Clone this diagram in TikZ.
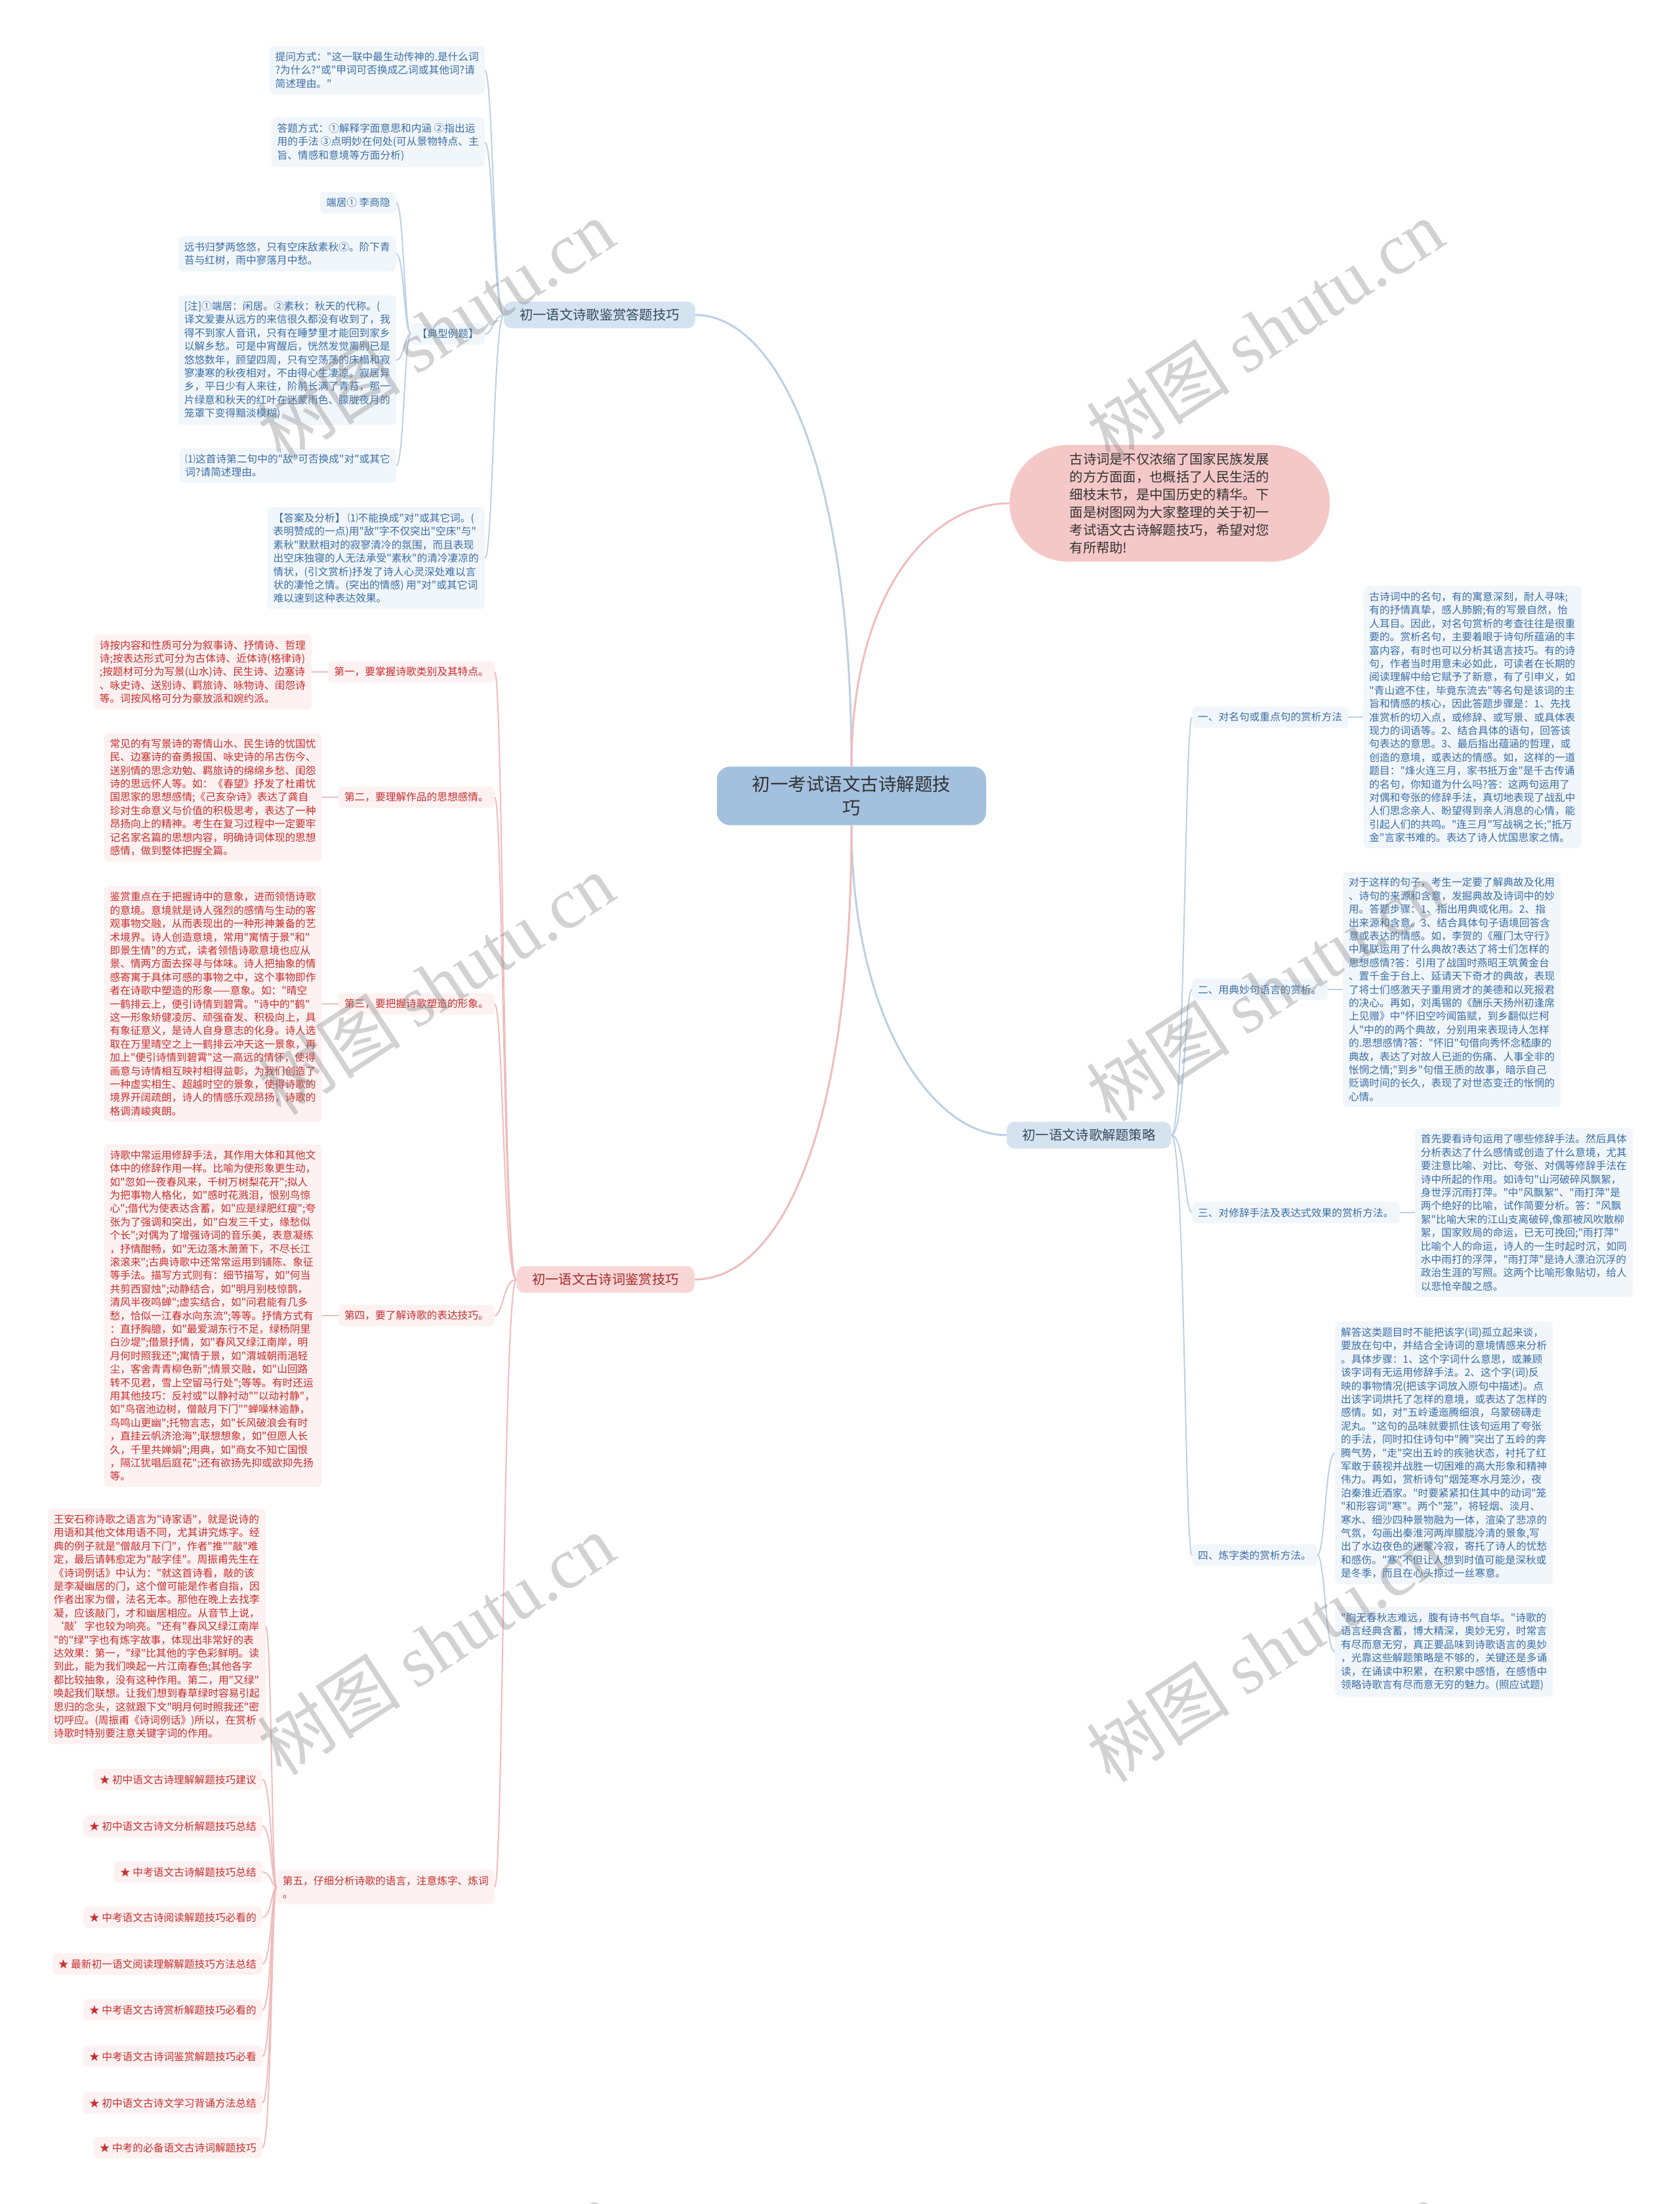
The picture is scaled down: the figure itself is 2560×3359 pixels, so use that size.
\documentclass[tikz,border=0pt]{standalone}
\usepackage{fontspec}
\setmainfont{Noto Sans CJK SC}
\newfontfamily\cjkfont{Noto Sans CJK SC}
\newfontfamily\wmlatin{Liberation Serif}
\usetikzlibrary{positioning}
\definecolor{bfill}{HTML}{F1F6FB}
\definecolor{btxt}{HTML}{3B6EA5}
\definecolor{blin}{HTML}{BCD0E4}
\definecolor{bbrf}{HTML}{D5E3F1}
\definecolor{bbrt}{HTML}{34495E}
\definecolor{rfill}{HTML}{FDF1F1}
\definecolor{rtxt}{HTML}{C62F2F}
\definecolor{rlin}{HTML}{F0BCBC}
\definecolor{rbrf}{HTML}{F9D6D6}
\definecolor{rbrt}{HTML}{A52A2A}
\definecolor{cfill}{HTML}{A3C0DE}
\definecolor{ifill}{HTML}{F5C8C8}
\definecolor{dtxt}{HTML}{333333}
\newcommand{\fsbody}{\cjkfont\fontsize{15.7}{20.4}\selectfont}
\newcommand{\fsbranch}{\cjkfont\fontsize{20.3}{27}\selectfont}
\newcommand{\fscenter}{\cjkfont\fontsize{27.5}{36}\selectfont}
\tikzset{
  bbox/.style={fill=bfill,text=btxt,rounded corners=7pt,inner xsep=9pt,inner ysep=9pt,align=left,font=\fsbody},
  rbox/.style={fill=rfill,text=rtxt,rounded corners=7pt,inner xsep=9pt,inner ysep=9pt,align=left,font=\fsbody},
  bbr/.style={fill=bbrf,text=bbrt,rounded corners=12pt,inner xsep=24pt,inner ysep=11pt,font=\fsbranch},
  rbr/.style={fill=rbrf,text=rbrt,rounded corners=12pt,inner xsep=24pt,inner ysep=11pt,font=\fsbranch},
  bln/.style={draw=blin,line width=2pt},
  rln/.style={draw=rlin,line width=2pt},
  bmain/.style={draw=blin,line width=3pt},
  rmain/.style={draw=rlin,line width=3pt},
  wm/.style={text=gray,opacity=0.35,rotate=33,font=\cjkfont\fontsize{110}{110}\selectfont}
}

\begin{document}
\begin{tikzpicture}[x=1pt,y=-1pt]
\fill[white] (0,0) rectangle (2560,3359);
\useasboundingbox (0,0) rectangle (2560,3359);
\node[fill=cfill,text=dtxt,rounded corners=20pt,inner xsep=54pt,inner ysep=14pt,align=center,font=\fscenter] (cn) at (1298,1213) {初一考试语文古诗解题技\\巧};
\node[fill=ifill,text=dtxt,rounded corners=90pt,inner xsep=92pt,inner ysep=12pt,align=left,font=\fsbranch] (intro) at (1783,767) {古诗词是不仅浓缩了国家民族发展\\的方方面面，也概括了人民生活的\\细枝末节，是中国历史的精华。下\\面是树图网为大家整理的关于初一\\考试语文古诗解题技巧，希望对您\\有所帮助!};
\node[bbr] (b1) at (914,480) {初一语文诗歌鉴赏答题技巧};
\node[bbr] (b2) at (1660,1730) {初一语文诗歌解题策略};
\node[rbr] (b3) at (923,1950) {初一语文古诗词鉴赏技巧};
\draw[bmain] (cn.north) .. controls (1298,700) and (1180,480) .. (b1.east);
\draw[rmain] (cn.north) .. controls (1298,900) and (1420,767) .. (intro.west);
\draw[bmain] (cn.south) .. controls (1298,1550) and (1420,1730) .. (b2.west);
\draw[rmain] (cn.south) .. controls (1298,1750) and (1180,1950) .. (b3.east);

\node[bbox,anchor=north east] (b1a) at (739,70) {提问方式："这一联中最生动传神的.是什么词\\?为什么?"或"甲词可否换成乙词或其他词?请\\简述理由。"};
\node[bbox,anchor=north east] (b1b) at (739,179) {答题方式：①解释字面意思和内涵 ②指出运\\用的手法 ③点明妙在何处(可从景物特点、主\\旨、情感和意境等方面分析)};
\node[bbox,anchor=east] (b1c) at (739,509) {【典型例题】};
\node[bbox,anchor=north east] (b1d) at (739,773) {【答案及分析】 ⑴不能换成"对"或其它词。(\\表明赞成的一点)用"敌"字不仅突出"空床"与"\\素秋"默默相对的寂寥清冷的氛围，而且表现\\出空床独寝的人无法承受"素秋"的清冷凄凉的\\情状，(引文赏析)抒发了诗人心灵深处难以言\\状的凄怆之情。(突出的情感) 用"对"或其它词\\难以速到这种表达效果。};
\node[bbox,anchor=east] (t1) at (604,309) {端居① 李商隐};
\node[bbox,anchor=north east] (t2) at (604,360) {远书归梦两悠悠，只有空床敌素秋②。阶下青\\苔与红树，雨中寥落月中愁。};
\node[bbox,anchor=north east] (t3) at (604,450) {[注]①端居：闲居。②素秋：秋天的代称。(\\译文爱妻从远方的来信很久都没有收到了，我\\得不到家人音讯，只有在睡梦里才能回到家乡\\以解乡愁。可是中宵醒后，恍然发觉离别已是\\悠悠数年，顾望四周，只有空荡荡的床榻和寂\\寥凄寒的秋夜相对，不由得心生凄凉。寂居异\\乡，平日少有人来往，阶前长满了青苔，那一\\片绿意和秋天的红叶在迷蒙雨色、朦胧夜月的\\笼罩下变得黯淡模糊)};
\node[bbox,anchor=north east] (t4) at (604,683) {⑴这首诗第二句中的"敌"可否换成"对"或其它\\词?请简述理由。};
\coordinate (sa) at (752,0);
\coordinate (sb) at (616,0);
\foreach \n in {b1a,b1b,b1c,b1d}
  \draw[bln] (b1.west) .. controls (b1.west -| sa) and (\n.east -| sa) .. (\n.east);
\foreach \n in {t1,t2,t3,t4}
  \draw[bln] (b1c.west) .. controls (b1c.west -| sb) and (\n.east -| sb) .. (\n.east);

\node[bbox,anchor=west] (s1) at (1817,1093) {一、对名句或重点句的赏析方法};
\node[bbox,anchor=west] (s2) at (1817,1508) {二、用典妙句语言的赏析。};
\node[bbox,anchor=west] (s3) at (1817,1848) {三、对修辞手法及表达式效果的赏析方法。};
\node[bbox,anchor=west] (s4) at (1817,2370) {四、炼字类的赏析方法。};
\node[bbox,right=23pt of s1] (s1t) {古诗词中的名句，有的寓意深刻，耐人寻味;\\有的抒情真挚，感人肺腑;有的写景自然，怡\\人耳目。因此，对名句赏析的考查往往是很重\\要的。赏析名句，主要着眼于诗句所蕴涵的丰\\富内容，有时也可以分析其语言技巧。有的诗\\句，作者当时用意未必如此，可读者在长期的\\阅读理解中给它赋予了新意，有了引申义，如\\"青山遮不住，毕竟东流去"等名句是该词的主\\旨和情感的核心，因此答题步骤是：1、先找\\准赏析的切入点，或修辞、或写景、或具体表\\现力的词语等。2、结合具体的语句，回答该\\句表达的意思。3、最后指出蕴涵的哲理，或\\创造的意境，或表达的情感。如，这样的一道\\题目："烽火连三月，家书抵万金"是千古传诵\\的名句，你知道为什么吗?答：这两句运用了\\对偶和夸张的修辞手法，真切地表现了战乱中\\人们思念亲人、盼望得到亲人消息的心情，能\\引起人们的共鸣。"连三月"写战祸之长;"抵万\\金"言家书难的。表达了诗人忧国思家之情。};
\node[bbox,right=23pt of s2] (s2t) {对于这样的句子，考生一定要了解典故及化用\\、诗句的来源和含意，发掘典故及诗词中的妙\\用。答题步骤：1、指出用典或化用。2、指\\出来源和含意。3、结合具体句子语境回答含\\意或表达的情感。如，李贺的《雁门太守行》\\中尾联运用了什么典故?表达了将士们怎样的\\思想感情?答：引用了战国时燕昭王筑黄金台\\、置千金于台上、延请天下奇才的典故，表现\\了将士们感激天子重用贤才的美德和以死报君\\的决心。再如，刘禹锡的《酬乐天扬州初逢席\\上见赠》中"怀旧空吟闻笛赋，到乡翻似烂柯\\人"中的的两个典故，分别用来表现诗人怎样\\的.思想感情?答："怀旧"句借向秀怀念嵇康的\\典故，表达了对故人已逝的伤痛、人事全非的\\怅惘之情;"到乡"句借王质的故事，暗示自己\\贬谪时间的长久，表现了对世态变迁的怅惘的\\心情。};
\node[bbox,right=23pt of s3] (s3t) {首先要看诗句运用了哪些修辞手法。然后具体\\分析表达了什么感情或创造了什么意境，尤其\\要注意比喻、对比、夸张、对偶等修辞手法在\\诗中所起的作用。如诗句"山河破碎风飘絮，\\身世浮沉雨打萍。"中"风飘絮"、"雨打萍"是\\两个绝好的比喻，试作简要分析。答："风飘\\絮"比喻大宋的江山支离破碎,像那被风吹散柳\\絮，国家败局的命运，已无可挽回;"雨打萍"\\比喻个人的命运，诗人的一生时起时沉，如同\\水中雨打的浮萍，"雨打萍"是诗人漂泊沉浮的\\政治生涯的写照。这两个比喻形象贴切，给人\\以悲怆辛酸之感。};
\node[bbox,anchor=north west] (s4t) at (2035,2014) {解答这类题目时不能把该字(词)孤立起来谈，\\要放在句中，并结合全诗词的意境情感来分析\\。具体步骤：1、这个字词什么意思，或兼顾\\该字词有无运用修辞手法。2、这个字(词)反\\映的事物情况(把该字词放入原句中描述)。点\\出该字词烘托了怎样的意境，或表达了怎样的\\感情。如，对"五岭逶迤腾细浪，乌蒙磅礴走\\泥丸。"这句的品味就要抓住该句运用了夸张\\的手法，同时扣住诗句中"腾"突出了五岭的奔\\腾气势，"走"突出五岭的疾驰状态，衬托了红\\军敢于藐视并战胜一切困难的高大形象和精神\\伟力。再如，赏析诗句"烟笼寒水月笼沙，夜\\泊秦淮近酒家。"时要紧紧扣住其中的动词"笼\\"和形容词"寒"。两个"笼"，将轻烟、淡月、\\寒水、细沙四种景物融为一体，渲染了悲凉的\\气氛，勾画出秦淮河两岸朦胧冷清的景象,写\\出了水边夜色的迷蒙冷寂，寄托了诗人的忧愁\\和感伤。"寒"不但让人想到时值可能是深秋或\\是冬季，而且在心头掠过一丝寒意。};
\node[bbox,anchor=north west] (s4u) at (2035,2449) {"胸无春秋志难远，腹有诗书气自华。"诗歌的\\语言经典含蓄，博大精深，奥妙无穷，时常言\\有尽而意无穷，真正要品味到诗歌语言的奥妙\\，光靠这些解题策略是不够的，关键还是多诵\\读，在诵读中积累，在积累中感悟，在感悟中\\领略诗歌言有尽而意无穷的魅力。(照应试题)};
\coordinate (se) at (1806,0);
\coordinate (sf) at (2020,0);
\foreach \n in {s1,s2,s3,s4}
  \draw[bln] (b2.east) .. controls (b2.east -| se) and (\n.west -| se) .. (\n.west);
\foreach \n in {s1,s2,s3}
  \draw[bln] (\n.east) -- (\n t.west);
\foreach \n in {s4t,s4u}
  \draw[bln] (s4.east) .. controls (s4.east -| sf) and (\n.west -| sf) .. (\n.west);

\node[rbox,anchor=east] (f1) at (754,1024) {第一，要掌握诗歌类别及其特点。};
\node[rbox,anchor=east] (f2) at (754,1215) {第二，要理解作品的思想感情。};
\node[rbox,anchor=east] (f3) at (754,1530) {第三，要把握诗歌塑造的形象。};
\node[rbox,anchor=east] (f4) at (754,2005) {第四，要了解诗歌的表达技巧。};
\node[rbox,anchor=east] (f5) at (754,2876) {第五，仔细分析诗歌的语言，注意炼字、炼词\\。};
\node[rbox,left=25pt of f1] (f1t) {诗按内容和性质可分为叙事诗、抒情诗、哲理\\诗;按表达形式可分为古体诗、近体诗(格律诗)\\;按题材可分为写景(山水)诗、民生诗、边塞诗\\、咏史诗、送别诗、羁旅诗、咏物诗、闺怨诗\\等。词按风格可分为豪放派和婉约派。};
\node[rbox,left=25pt of f2] (f2t) {常见的有写景诗的寄情山水、民生诗的忧国忧\\民、边塞诗的奋勇报国、咏史诗的吊古伤今、\\送别情的思念劝勉、羁旅诗的绵绵乡愁、闺怨\\诗的思远怀人等。如：《春望》抒发了杜甫忧\\国思家的思想感情;《己亥杂诗》表达了龚自\\珍对生命意义与价值的积极思考，表达了一种\\昂扬向上的精神。考生在复习过程中一定要牢\\记名家名篇的思想内容，明确诗词体现的思想\\感情，做到整体把握全篇。};
\node[rbox,left=25pt of f3] (f3t) {鉴赏重点在于把握诗中的意象，进而领悟诗歌\\的意境。意境就是诗人强烈的感情与生动的客\\观事物交融，从而表现出的一种形神兼备的艺\\术境界。诗人创造意境，常用"寓情于景"和"\\即景生情"的方式，读者领悟诗歌意境也应从\\景、情两方面去探寻与体味。诗人把抽象的情\\感寄寓于具体可感的事物之中，这个事物即作\\者在诗歌中塑造的形象——意象。如："晴空\\一鹤排云上，便引诗情到碧霄。"诗中的"鹤"\\这一形象矫健凌厉、顽强奋发、积极向上，具\\有象征意义，是诗人自身意志的化身。诗人选\\取在万里晴空之上一鹤排云冲天这一景象，再\\加上"便引诗情到碧霄"这一高远的情怀，使得\\画意与诗情相互映衬相得益彰，为我们创造了\\一种虚实相生、超越时空的景象，使得诗歌的\\境界开阔疏朗，诗人的情感乐观昂扬，诗歌的\\格调清峻爽朗。};
\node[rbox,left=25pt of f4] (f4t) {诗歌中常运用修辞手法，其作用大体和其他文\\体中的修辞作用一样。比喻为使形象更生动，\\如"忽如一夜春风来，千树万树梨花开";拟人\\为把事物人格化，如"感时花溅泪，恨别鸟惊\\心";借代为使表达含蓄，如"应是绿肥红瘦";夸\\张为了强调和突出，如"白发三千丈，缘愁似\\个长";对偶为了增强诗词的音乐美，表意凝练\\，抒情酣畅，如"无边落木萧萧下，不尽长江\\滚滚来";古典诗歌中还常常运用到铺陈、象征\\等手法。描写方式则有：细节描写，如"何当\\共剪西窗烛";动静结合，如"明月别枝惊鹊，\\清风半夜鸣蝉";虚实结合，如"问君能有几多\\愁，恰似一江春水向东流";等等。抒情方式有\\：直抒胸臆，如"最爱湖东行不足，绿杨阴里\\白沙堤";借景抒情，如"春风又绿江南岸，明\\月何时照我还";寓情于景，如"渭城朝雨浥轻\\尘，客舍青青柳色新";情景交融，如"山回路\\转不见君，雪上空留马行处";等等。有时还运\\用其他技巧：反衬或"以静衬动""以动衬静"，\\如"鸟宿池边树，僧敲月下门""蝉噪林逾静，\\鸟鸣山更幽";托物言志，如"长风破浪会有时\\，直挂云帆济沧海";联想想象，如"但愿人长\\久，千里共婵娟";用典，如"商女不知亡国恨\\，隔江犹唱后庭花";还有欲扬先抑或欲抑先扬\\等。};
\node[rbox,anchor=north east] (f5t) at (405,2299) {王安石称诗歌之语言为"诗家语"，就是说诗的\\用语和其他文体用语不同，尤其讲究炼字。经\\典的例子就是"僧敲月下门"，作者"推""敲"难\\定，最后请韩愈定为"敲字佳"。周振甫先生在\\《诗词例话》中认为："就这首诗看，敲的该\\是李凝幽居的门，这个僧可能是作者自指，因\\作者出家为僧，法名无本。那他在晚上去找李\\凝，应该敲门，才和幽居相应。从音节上说，\\‘敲’字也较为响亮。"还有"春风又绿江南岸\\"的"绿"字也有炼字故事，体现出非常好的表\\达效果：第一，"绿"比其他的字色彩鲜明。读\\到此，能为我们唤起一片江南春色;其他各字\\都比较抽象，没有这种作用。第二，用"又绿"\\唤起我们联想。让我们想到春草绿时容易引起\\思归的念头，这就跟下文"明月何时照我还"密\\切呼应。(周振甫《诗词例话》)所以，在赏析\\诗歌时特别要注意关键字词的作用。};
\node[rbox,anchor=east] (k1) at (400,2712) {★ 初中语文古诗理解解题技巧建议};
\node[rbox,anchor=east] (k2) at (400,2783) {★ 初中语文古诗文分析解题技巧总结};
\node[rbox,anchor=east] (k3) at (400,2853) {★ 中考语文古诗解题技巧总结};
\node[rbox,anchor=east] (k4) at (400,2922) {★ 中考语文古诗阅读解题技巧必看的};
\node[rbox,anchor=east] (k5) at (400,2993) {★ 最新初一语文阅读理解解题技巧方法总结};
\node[rbox,anchor=east] (k6) at (400,3063) {★ 中考语文古诗赏析解题技巧必看的};
\node[rbox,anchor=east] (k7) at (400,3134) {★ 中考语文古诗词鉴赏解题技巧必看};
\node[rbox,anchor=east] (k8) at (400,3205) {★ 初中语文古诗文学习背诵方法总结};
\node[rbox,anchor=east] (k9) at (400,3273) {★ 中考的必备语文古诗词解题技巧};
\coordinate (sc) at (767,0);
\coordinate (sd) at (414,0);
\foreach \n in {f1,f2,f3,f4,f5}
  \draw[rln] (b3.west) .. controls (b3.west -| sc) and (\n.east -| sc) .. (\n.east);
\foreach \n in {f1,f2,f3,f4}
  \draw[rln] (\n.west) -- (\n t.east);
\foreach \n in {f5t,k1,k2,k3,k4,k5,k6,k7,k8,k9}
  \draw[rln] (f5.west) .. controls (f5.west -| sd) and (\n.east -| sd) .. (\n.east);

\begin{scope}
\clip (0,0) rectangle (2560,3359);
\foreach \x/\y [count=\i] in {664/503,1928/503,664/1500,1928/1510,664/2506,1928/2517,664/3524,1928/3524}
  \node[wm] (wm\i) at (\x,\y) {树图 {\wmlatin shutu.cn}};
\end{scope}
\end{tikzpicture}
\end{document}
